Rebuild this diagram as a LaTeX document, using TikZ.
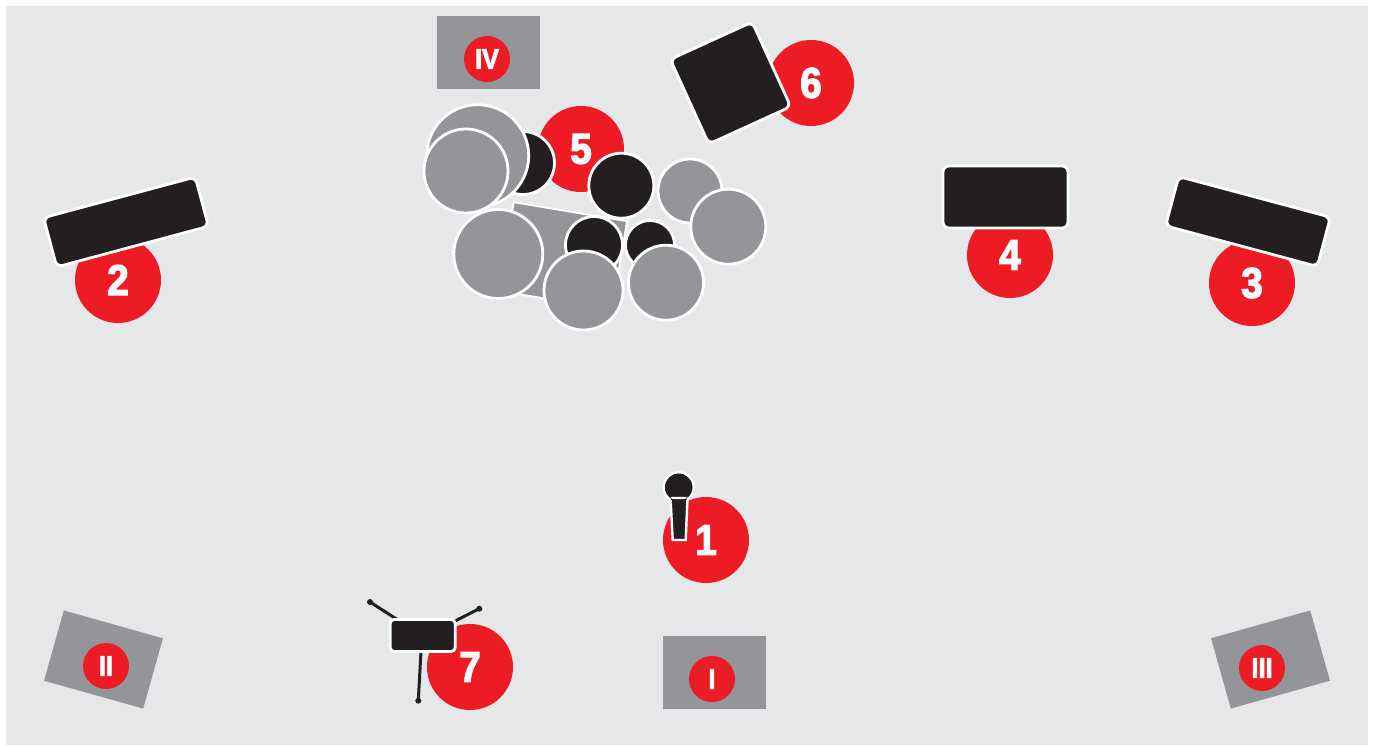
\documentclass[tikz,border=0pt]{standalone}
\usepackage{fontspec}
\setmainfont{Liberation Sans}
\newfontfamily\labelfont[FakeStretch=0.9,FakeBold=3]{Liberation Sans Bold}
\definecolor{stagebg}{HTML}{E6E7E8}
\definecolor{kitgray}{HTML}{939598}
\definecolor{kitblack}{HTML}{231F20}
\definecolor{tagred}{HTML}{ED1C24}
\tikzset{
  bignum/.style={circle,fill=tagred,inner sep=0pt,minimum size=86pt,text=white,font=\labelfont\fontsize{43}{43}\selectfont},
  smallnum/.style={circle,fill=tagred,inner sep=0pt,minimum size=46pt,text=white,font=\labelfont\fontsize{28}{28}\selectfont},
  monitor/.style={rectangle,fill=kitgray,inner sep=0pt,minimum width=103pt,minimum height=73pt},
  amp/.style={rectangle,rounded corners=6pt,fill=kitblack,draw=white,line width=2.8pt,inner sep=0pt},
  dg/.style={circle,fill=kitgray,draw=white,line width=2.8pt,inner sep=0pt},
  db/.style={circle,fill=kitblack,draw=white,line width=2.8pt,inner sep=0pt},
  leg/.style={draw=kitblack,line width=3pt},
  legend/.style={circle,fill=kitblack,inner sep=0pt,minimum size=6pt}
}
\begin{document}
\begin{tikzpicture}[x=1pt,y=-1pt]
\useasboundingbox (0,0) rectangle (1373,745);
\fill[white] (0,0) rectangle (1373,745);
\fill[stagebg] (6,6) rectangle (1368,745);
% monitors
\node[monitor] (m4) at (488.5,52.5) {};
\node[smallnum] (t4) at (487,59) {IV};
\node[monitor] (m1) at (714.5,672.5) {};
\node[smallnum] (t1) at (712,679) {I};
\node[monitor,rotate=-15.7] (m2) at (103.5,659.5) {};
\node[smallnum] (t2) at (106,666) {II};
\node[monitor,rotate=15.7] (m3) at (1270.5,659.5) {};
\node[smallnum] (t3) at (1262,668) {III};
% numbered circles
\node[bignum] (n1) at (706,540) {1};
\node[bignum] (n2) at (118,280) {2};
\node[bignum] (n3) at (1252,283) {3};
\node[bignum] (n4) at (1010,255) {4};
\node[bignum] (n5) at (581,149) {5};
\node[bignum] (n6) at (811,83) {6};
\node[bignum] (n7) at (470,667) {7};
% amps
\node[amp,rotate=15,minimum width=157pt,minimum height=51pt] (a2) at (126,222) {};
\node[amp,rotate=-15,minimum width=157pt,minimum height=51pt] (a3) at (1248,221.5) {};
\node[amp,minimum width=125pt,minimum height=62pt] (a4) at (1005.5,197) {};
\node[amp,rotate=24.5,minimum width=90pt,minimum height=93pt] (a6) at (730.5,83) {};
% drum kit
\node[db,minimum size=63pt] (d1) at (523,163) {};
\node[dg,minimum size=102pt] (d2) at (477.7,155.7) {};
\node[dg,minimum size=84pt] (d3) at (466,171) {};
\node[rectangle,fill=kitgray,draw=white,line width=2pt,rotate=-9.5,minimum width=115pt,minimum height=90pt,inner sep=0pt] (rug) at (563,256) {};
\node[db,minimum size=57pt] (d4) at (594,245) {};
\node[dg,minimum size=89pt] (d5) at (498.3,254) {};
\node[dg,minimum size=79pt] (d6) at (583.5,290.5) {};
\node[db,minimum size=65pt] (d7) at (621.3,185.7) {};
\node[db,minimum size=49pt] (d8) at (650,245) {};
\node[dg,minimum size=75pt] (d9) at (666,282.7) {};
\node[dg,minimum size=64pt] (d10) at (690,191) {};
\node[dg,minimum size=75pt] (d11) at (728.3,226.7) {};
% microphone
\node[circle,fill=kitblack,draw=white,line width=2.4pt,minimum size=30pt,inner sep=0pt] (head) at (678.7,487.3) {};
\draw[fill=kitblack,draw=white,line width=2.4pt,line join=miter] (670.5,498) -- (687.5,498) -- (685.7,540) -- (672.7,540) -- cycle;
\fill[kitblack] (678.7,487.3) circle (13.5) (671,494) rectangle (686.5,500);
% stand
\coordinate (frame1) at (398,620);
\coordinate (frame2) at (455,621);
\coordinate (frame3) at (421,651);
\node[legend] (e1) at (370,602) {};
\node[legend] (e2) at (479.3,608.7) {};
\node[legend] (e3) at (418.3,700.7) {};
\draw[leg] (e1.center) -- (frame1);
\draw[leg] (e2.center) -- (frame2);
\draw[leg] (e3.center) -- (frame3);
\node[amp,rounded corners=4pt,minimum width=65pt,minimum height=32pt] (box7) at (422.7,635.5) {};
\end{tikzpicture}
\end{document}
